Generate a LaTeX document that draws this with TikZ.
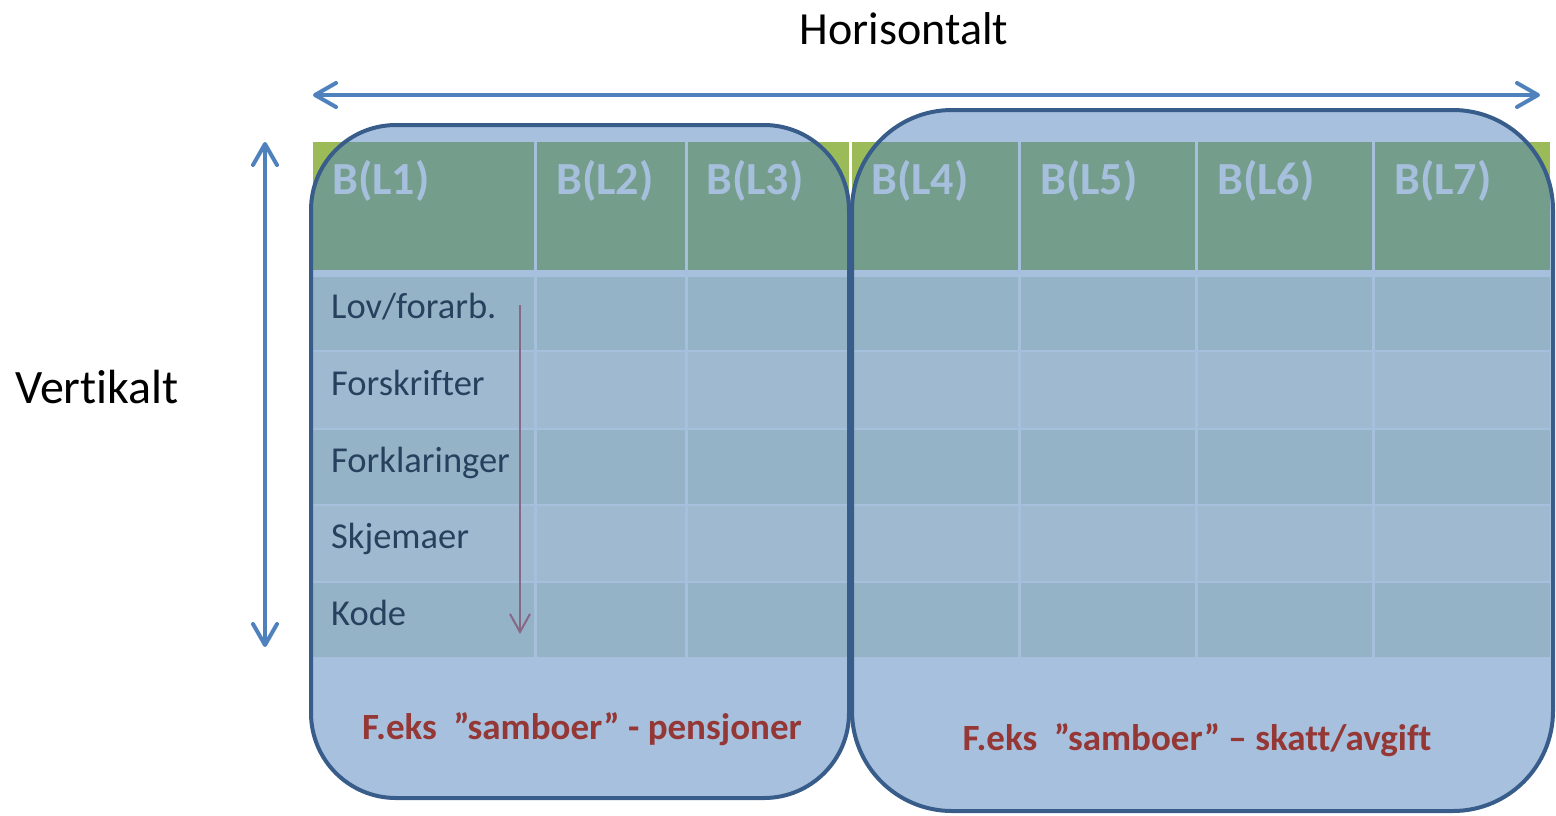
\documentclass[tikz,border=0pt]{standalone}
\usepackage{fontspec}
\setmainfont{Carlito}[Ligatures={NoCommon}]
\usetikzlibrary{arrows.meta}
\definecolor{accblue}{HTML}{4F81BD}
\definecolor{boxline}{HTML}{385D8A}
\definecolor{hdrgreen}{HTML}{9BBB59}
\definecolor{bandA}{HTML}{DDE6D3}
\definecolor{bandB}{HTML}{F1F3E7}
\definecolor{accred}{HTML}{C0504D}
\definecolor{txtred}{HTML}{953735}
\begin{document}
\begin{tikzpicture}
  [x=1pt,y=-1pt,
   hdr/.style={anchor=base west,inner sep=0pt,text=white,font=\fontsize{46}{52}\selectfont\bfseries},
   lbl/.style={anchor=base west,inner sep=0pt,text=black,font=\fontsize{36.5}{42}\selectfont},
   big/.style={inner sep=0pt,font=\fontsize{46}{55}\selectfont},
   box/.style={draw=boxline,line width=4pt,fill=accblue,fill opacity=.5,draw opacity=1},
   note/.style={anchor=base,inner sep=0pt,text=txtred,font=\fontsize{37}{44}\selectfont\bfseries},
   dbl/.style={accblue,line width=4pt,line cap=round,
     {Straight Barb[length=21pt,width=24pt,round]}-{Straight Barb[length=21pt,width=24pt,round]}}]
  \useasboundingbox (0,0) rectangle (1556,815);
  % titles and the two arrows
  \node[big,anchor=base] (ht) at (904,44) {Horisontalt};
  \node[big,anchor=base west,font=\fontsize{48}{55}\selectfont] (vt) at (15,403) {Vertikalt};
  \coordinate (hl) at (313,95);
  \coordinate (hr) at (1540,95);
  \coordinate (vu) at (265,142);
  \coordinate (vd) at (265,647);
  \draw[dbl] (hl) -- (hr);
  \draw[dbl] (vu) -- (vd);
  % table
  \fill[hdrgreen] (313,142) rectangle (1550,270);
  \foreach \t/\b/\c in {277/351/bandA,351/429/bandB,429/505/bandA,505/582/bandB,582/657/bandA}
    \fill[\c] (313,\t) rectangle (1550,\b);
  \foreach \y in {351,429,505,582}
    \draw[white,line width=2pt] (313,\y) -- (1550,\y);
  \foreach \x in {535,686,850,1019,1196,1373}
    \draw[white,line width=3pt] (\x,142) -- (\x,657);
  \foreach \x/\n in {332/1,556/2,706/3,871/4,1040/5,1217/6,1394/7}
    \node[hdr] (h\n) at (\x,194) {B(L\n)};
  \foreach \y/\t [count=\i] in {318/{Lov/forarb.},395/Forskrifter,472/Forklaringer,548/Skjemaer,625/Kode}
    \node[lbl] (r\i) at (331,\y) {\t};
  \coordinate (a1) at (520,305);
  \coordinate (a2) at (520,634);
  \draw[accred,line width=2pt,-{Straight Barb[length=18pt,width=20pt]}] (a1) -- (a2);
  % the two groups
  \draw[box,rounded corners=85pt] (311,125) rectangle (849,798);
  \draw[box,rounded corners=100pt] (852,110) rectangle (1553,811);
  \node[note] (n1) at (582,739) {F.eks\ \ ”samboer” - pensjoner};
  \node[note] (n2) at (1197,750) {F.eks\ \ ”samboer” – skatt/avgift};
\end{tikzpicture}
\end{document}
